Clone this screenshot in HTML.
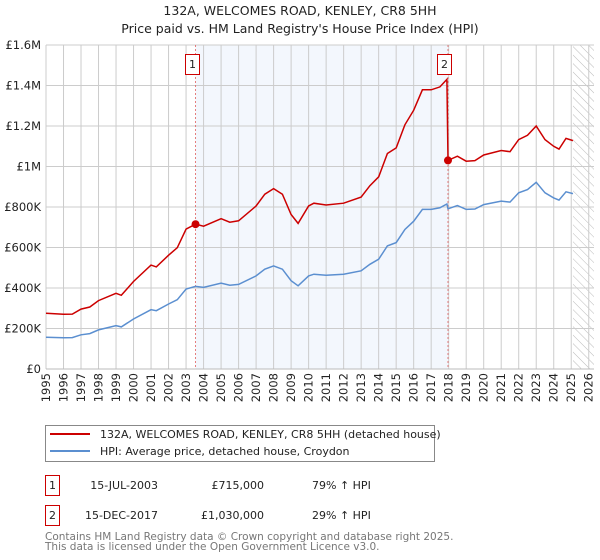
<!DOCTYPE html>
<html><head><meta charset="utf-8"><style>
body{margin:0;background:#fff;font-family:"DejaVu Sans","Liberation Sans",sans-serif;}
svg{display:block}
</style></head><body>
<svg id="chart" width="600" height="560" viewBox="0 0 600 560">
<text x="300" y="15" text-anchor="middle" font-size="12.5" fill="#222">132A, WELCOMES ROAD, KENLEY, CR8 5HH</text>
<text x="300" y="33" text-anchor="middle" font-size="12.5" fill="#222">Price paid vs. HM Land Registry's House Price Index (HPI)</text>
<g id="plot"></g>
<g>
<rect x="45.5" y="425.5" width="389" height="36" fill="#fff" stroke="#888"/>
<line x1="50" y1="434" x2="90" y2="434" stroke="#cc0000" stroke-width="2"/>
<text x="100" y="438" font-size="11" fill="#222">132A, WELCOMES ROAD, KENLEY, CR8 5HH (detached house)</text>
<line x1="50" y1="451" x2="90" y2="451" stroke="#5b8fd0" stroke-width="2"/>
<text x="100" y="455" font-size="11" fill="#222">HPI: Average price, detached house, Croydon</text>
</g>
<g font-size="11" fill="#222">
<rect x="45.5" y="475.5" width="14" height="20" fill="#fff" stroke="#cc0000"/>
<text x="52.5" y="489" text-anchor="middle">1</text>
<text x="158" y="489" text-anchor="end">15-JUL-2003</text>
<text x="264" y="489" text-anchor="end">£715,000</text>
<text x="312" y="489">79% ↑ HPI</text>
<rect x="45.5" y="505.5" width="14" height="20" fill="#fff" stroke="#cc0000"/>
<text x="52.5" y="519" text-anchor="middle">2</text>
<text x="158" y="519" text-anchor="end">15-DEC-2017</text>
<text x="264" y="519" text-anchor="end">£1,030,000</text>
<text x="312" y="519">29% ↑ HPI</text>
</g>
<text x="45" y="540" font-size="10.5" fill="#777">Contains HM Land Registry data © Crown copyright and database right 2025.</text>
<text x="45" y="550" font-size="10.5" fill="#777">This data is licensed under the Open Government Licence v3.0.</text>
</svg>
<script>
const years=[1995,1996,1996.5,1997,1997.5,1998,1999,1999.3,2000,2001,2001.3,2002,2002.5,2003,2003.54,2004,2005,2005.5,2006,2007,2007.5,2008,2008.5,2009,2009.4,2010,2010.3,2011,2012,2013,2013.5,2014,2014.5,2015,2015.5,2016,2016.5,2017,2017.5,2017.9,2017.96,2018.5,2019,2019.5,2020,2021,2021.5,2022,2022.5,2023,2023.5,2024,2024.3,2024.7,2025.1];
const hpiValues=[157,154,155,169,175,193,214,208,247,293,288,321,342,395,408,403,424,414,418,460,493,509,493,436,411,460,468,463,468,485,517,542,608,624,689,730,788,788,796,815,791,807,788,790,812,829,824,870,886,922,870,845,834,875,866];
const priceValues=[275,270,271,296,306,338,374,364,432,513,504,562,599,691,715,705,742,725,732,805,863,891,863,763,719,805,819,810,819,849,905,949,1064,1092,1206,1278,1379,1379,1393,1430,1030,1051,1026,1029,1057,1079,1073,1133,1154,1200,1133,1100,1086,1139,1128];
const saleYears=[2003.54,2017.96];
const saleValues=[715,1030];
const saleLabels=["1","2"];
const yTicks=[0,200,400,600,800,1000,1200,1400,1600];
const yTickLabels=["£0","£200K","£400K","£600K","£800K","£1M","£1.2M","£1.4M","£1.6M"];
const xTicks=[1995,1996,1997,1998,1999,2000,2001,2002,2003,2004,2005,2006,2007,2008,2009,2010,2011,2012,2013,2014,2015,2016,2017,2018,2019,2020,2021,2022,2023,2024,2025,2026];
const L=46,R=594,T=45,B=369,X0=1995,X1=2026.3,YMAX=1600;
const x=v=>L+(v-X0)/(X1-X0)*(R-L);
const y=v=>B-v/YMAX*(B-T);
const NS="http://www.w3.org/2000/svg";
const g=document.getElementById('plot');
function mk(t,a){const e=document.createElementNS(NS,t);for(const k in a)e.setAttribute(k,a[k]);g.appendChild(e);return e;}
let e;
e=mk('rect',{x:x(saleYears[0]),y:T,width:x(saleYears[1])-x(saleYears[0]),height:B-T,fill:'#eef3fc',opacity:0.7});


const defs=document.createElementNS(NS,'defs');defs.innerHTML='<pattern id="hatch" width="6" height="6" patternUnits="userSpaceOnUse" patternTransform="rotate(-45)"><line x1="0" y1="0" x2="0" y2="6" stroke="#bbb" stroke-width="1"/></pattern>';g.appendChild(defs);
e=mk('rect',{x:x(2025.1),y:T,width:R-x(2025.1),height:B-T,fill:'url(#hatch)'});


xTicks.forEach((t,i)=>{
 e=mk('line',{x1:x(t),x2:x(t),y1:T,y2:B,stroke:'#ccc','stroke-width':1});
 
 
 e=mk('text',{x:0,y:0,'font-size':11.5,fill:'#222','text-anchor':'end',transform:`translate(${x(t)+4},${B+4}) rotate(-90)`});
 e.textContent=t;
 
 
});
yTicks.forEach((t,i)=>{
 e=mk('line',{x1:L,x2:R,y1:y(t),y2:y(t),stroke:'#ccc','stroke-width':1});
 
 
 e=mk('text',{x:L-5,y:y(t)+4,'font-size':11.5,fill:'#222','text-anchor':'end'});
 e.textContent=yTickLabels[i];
 
 
});
e=mk('line',{x1:L,x2:R,y1:B,y2:B,stroke:'#bbb'});


saleYears.forEach((s,i)=>{
 e=mk('line',{x1:x(s),x2:x(s),y1:T,y2:B,stroke:'#e06060','stroke-width':0.8,'stroke-dasharray':'2,2'});
 
 
 e=mk('rect',{x:Math.round(x(s))-10.5,y:T+9.5,width:14,height:20,fill:'#fff',stroke:'#cc0000'});
 
 
 e=mk('text',{x:Math.round(x(s))-3.5,y:T+23,'font-size':11,fill:'#222','text-anchor':'middle'});
 e.textContent=saleLabels[i];
 
 
});
const pts=a=>years.map((t,i)=>x(t).toFixed(1)+','+y(a[i]).toFixed(1)).join(' ');
e=mk('polyline',{points:pts(hpiValues),fill:'none',stroke:'#5b8fd0','stroke-width':1.5});


e=mk('polyline',{points:pts(priceValues),fill:'none',stroke:'#cc0000','stroke-width':1.5});


saleYears.forEach((s,i)=>{
 e=mk('circle',{cx:x(s),cy:y(saleValues[i]),r:4,fill:'#cc0000'});
 
 
});
</script>
</body></html>
